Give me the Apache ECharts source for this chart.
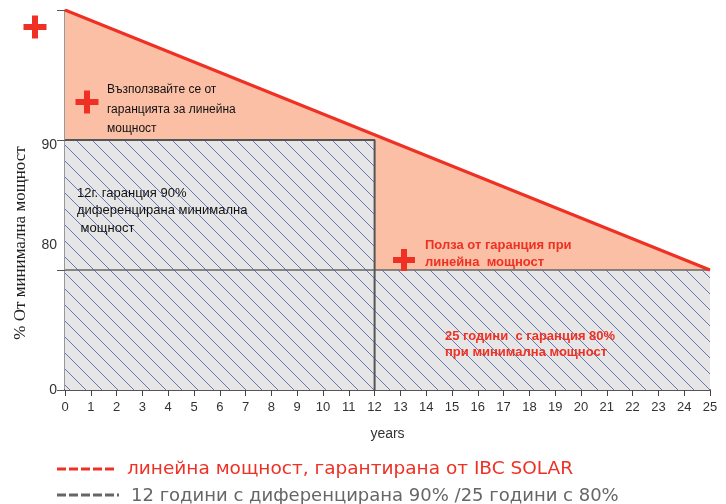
<!DOCTYPE html>
<html>
<head>
<meta charset="utf-8">
<script src="https://cdn.jsdelivr.net/npm/echarts@6/dist/echarts.min.js"></script>
<style>html,body{margin:0;padding:0;background:#fff;}#c{width:726px;height:504px;}</style>
</head>
<body>
<div id="c"></div>
<script>
// ---- data ----
const redLineYears = [0, 25];
const redLinePower = [100, 80];
const guaranteeYears = [0, 12, 12, 25];
const guaranteePower = [90, 90, 80, 80];
const yTickValues = [0, 80, 90, 100];
const yLabelValues = [0, 80, 90];
const legendLabels = ['линейна мощност, гарантирана от IBC SOLAR', '12 години с диференцирана 90% /25 години с 80%'];
const noteLinear = ['Възползвайте се от', 'гаранцията за линейна', 'мощност'];
const note12 = ['12г. гаранция 90%', 'диференцирана минимална', ' мощност'];
const noteBenefit = ['Полза от гаранция при', 'линейна  мощност'];
const note25 = ['25 години  с гаранция 80%', 'при минимална мощност'];

// broken axis: 0..80 compressed, 80..100 expanded
function toAxis(v) { return v <= 80 ? v * 1.5 : 120 + (v - 80) * 13; }
function pts(xs, ys) { return xs.map((x, i) => [x, toAxis(ys[i])]); }

const labelShift = {0: 0, 80: 25, 90: -5};
const labelPos = yLabelValues.map(v => toAxis(v) + labelShift[v]);

// hatch pattern
const tile = document.createElement('canvas');
tile.width = 16; tile.height = 16;
const g = tile.getContext('2d');
g.fillStyle = '#e6e6e6'; g.fillRect(0, 0, 16, 16);
g.strokeStyle = '#6678b4'; g.lineWidth = 1;
[[-16, 0], [0, 0], [16, 0]].forEach(([ox]) => {
  g.beginPath(); g.moveTo(ox - 1, -1); g.lineTo(ox + 17, 17); g.stroke();
});

function plus(cx, cy, s, t) {
  return {
    type: 'group', z: 100, children: [
      {type: 'rect', z: 100, shape: {x: cx - s / 2, y: cy - t / 2, width: s, height: t}, style: {fill: '#ee3124'}},
      {type: 'rect', z: 100, shape: {x: cx - t / 2, y: cy - s / 2, width: t, height: s}, style: {fill: '#ee3124'}}
    ]
  };
}
// y = centre of first line
function txt(x, y, lines, size, color, weight, lh) {
  return {type: 'text', z: 100, x: x, y: y - lh / 2, style: {text: lines.join('\n'), fill: color, font: weight + ' ' + size + 'px "Liberation Sans", Arial, sans-serif', lineHeight: lh, verticalAlign: 'top'}};
}

const chart = echarts.init(document.getElementById('c'));
chart.setOption({
  animation: false,
  grid: {left: 65, right: 16, top: 10, bottom: 114},
  xAxis: {
    type: 'value', min: 0, max: 25, interval: 1,
    name: 'years', nameLocation: 'middle', nameGap: 37,
    nameTextStyle: {color: '#333', fontSize: 14, fontFamily: 'Liberation Sans'},
    axisLine: {lineStyle: {color: '#555', width: 2}},
    axisTick: {length: 6, lineStyle: {color: '#444', width: 1}},
    axisLabel: {color: '#333', fontSize: 13, margin: 11, fontFamily: 'Liberation Sans'},
    splitLine: {show: false}
  },
  yAxis: {
    type: 'value', min: 0, max: toAxis(100),
    axisLine: {show: true, lineStyle: {color: '#777', width: 1.5}},
    axisTick: {show: true, length: 8, customValues: yTickValues.map(toAxis), lineStyle: {color: '#555'}},
    axisLabel: {
      color: '#333', fontSize: 14, margin: 8, fontFamily: 'Liberation Sans',
      customValues: labelPos,
      formatter: function (val) {
        const i = labelPos.findIndex(p => Math.abs(p - val) < 1e-6);
        return i >= 0 ? String(yLabelValues[i]) : '';
      }
    },
    splitLine: {show: false}
  },
  series: [
    {type: 'line', data: pts(redLineYears, redLinePower), symbol: 'none', z: 1,
      lineStyle: {width: 0}, areaStyle: {color: '#fbbfa6', opacity: 1}},
    {type: 'line', data: pts(guaranteeYears, guaranteePower), symbol: 'none', z: 2,
      lineStyle: {width: 0}, areaStyle: {color: {image: tile, repeat: 'repeat'}, opacity: 1}},
    {type: 'line', data: pts([0, 25], [80, 80]), symbol: 'none', z: 3,
      lineStyle: {color: '#666', width: 1.5}},
    {type: 'line', data: pts([0, 12, 12], [90, 90, 0]), symbol: 'none', z: 3,
      lineStyle: {color: '#555', width: 2}},
    {type: 'line', data: pts(redLineYears, redLinePower), symbol: 'none', z: 4,
      lineStyle: {color: '#ee3124', width: 3}}
  ],
  graphic: [
    plus(35, 27, 23, 6),
    plus(87, 102, 23, 6),
    plus(404, 260, 22, 6),
    txt(107, 90, noteLinear, 12, '#111', 'normal', 19.5),
    txt(77, 193, note12, 13, '#111', 'normal', 17.5),
    txt(425, 245, noteBenefit, 13, '#ee3124', 'bold', 17),
    txt(445, 336, note25, 13, '#ee3124', 'bold', 16.5),
    {type: 'text', z: 100, x: 21, y: 243, rotation: Math.PI / 2,
      style: {text: '% От минимална мощност', fill: '#222', font: '17px "Liberation Serif", serif', align: 'center', verticalAlign: 'middle'}},
    {type: 'line', z: 100, shape: {x1: 57, y1: 469, x2: 116, y2: 469}, style: {stroke: '#ee3124', lineWidth: 3, lineDash: [9, 3]}},
    {type: 'line', z: 100, shape: {x1: 57, y1: 495, x2: 119, y2: 495}, style: {stroke: '#666', lineWidth: 3, lineDash: [9, 3]}},
    {type: 'text', z: 100, x: 127, y: 469, style: {text: legendLabels[0], fill: '#ee3124', font: '18.5px "DejaVu Sans", sans-serif', verticalAlign: 'middle'}},
    {type: 'text', z: 100, x: 131, y: 496, style: {text: legendLabels[1], fill: '#666', font: '18px "DejaVu Sans", sans-serif', verticalAlign: 'middle'}}
  ]
});
</script>
</body>
</html>
